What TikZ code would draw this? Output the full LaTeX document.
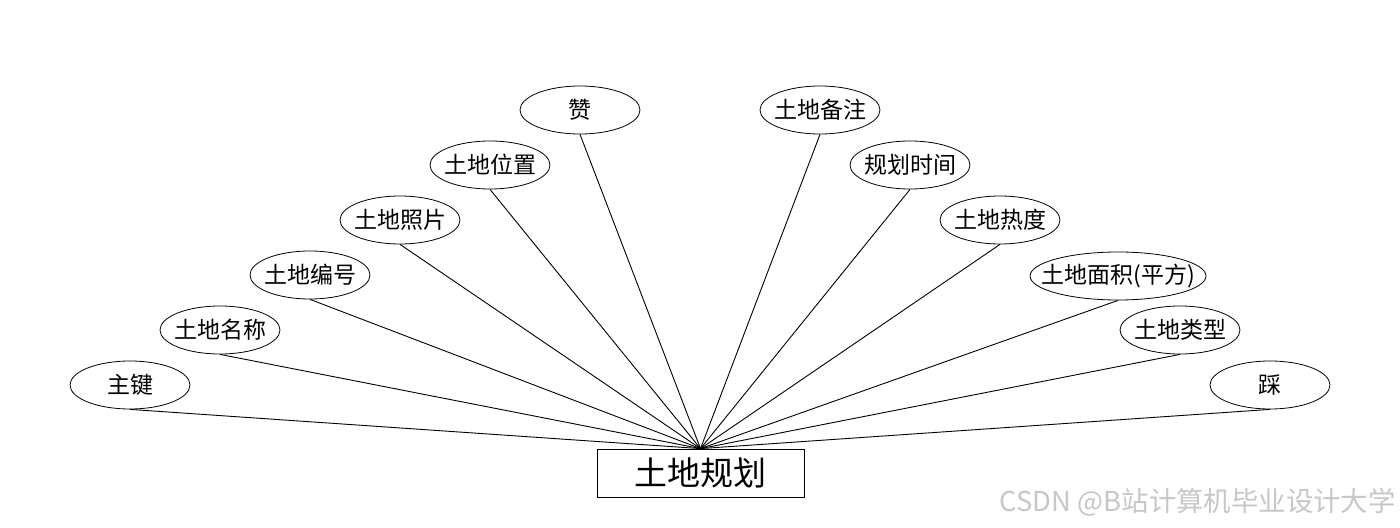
\documentclass[tikz,border=0pt]{standalone}
\usepackage{fontspec}
\setmainfont{Noto Sans CJK SC}
\usetikzlibrary{shapes.geometric}
\newcommand{\attrtext}[1]{\makebox[0pt]{#1}}
\tikzset{
  attr/.style={draw, ellipse, minimum width=60pt, minimum height=24pt, inner sep=0pt, font=\fontsize{11.5pt}{13pt}\selectfont},
  entity/.style={draw, rectangle, minimum width=103.5pt, minimum height=24pt, inner sep=0pt, font=\fontsize{16.5pt}{19pt}\selectfont},
  link/.style={draw, line width=0.45pt}
}
\begin{document}
\begin{tikzpicture}[x=0.5pt,y=-0.5pt]
\useasboundingbox (0,0) rectangle (1400,528);
\node[entity] (ent) at (700.5,473) {土地规划};
\node[attr] (zj) at (130,385) {\attrtext{主键}};
\node[attr] (mc) at (220,330) {\attrtext{土地名称}};
\node[attr] (bh) at (310,275) {\attrtext{土地编号}};
\node[attr] (zp) at (400,220) {\attrtext{土地照片}};
\node[attr] (wz) at (490,165) {\attrtext{土地位置}};
\node[attr] (zan) at (580,110) {\attrtext{赞}};
\node[attr] (bz) at (820,110) {\attrtext{土地备注}};
\node[attr] (sj) at (910,165) {\attrtext{规划时间}};
\node[attr] (rd) at (1000,220) {\attrtext{土地热度}};
\node[attr, minimum width=88pt] (mj) at (1118,276) {\attrtext{土地面积(平方)}};
\node[attr] (lx) at (1180,330) {\attrtext{土地类型}};
\node[attr] (cai) at (1270,385) {\attrtext{踩}};
\foreach \a in {zj,mc,bh,zp,wz,zan,bz,sj,rd,mj,lx,cai}
  \draw[link] (\a.south) -- (ent.north);
\node[anchor=east, text=black!22, font=\fontsize{13.7pt}{16pt}\selectfont, inner sep=0pt] (wm) at (1396,502) {CSDN @B站计算机毕业设计大学};
\end{tikzpicture}
\end{document}
